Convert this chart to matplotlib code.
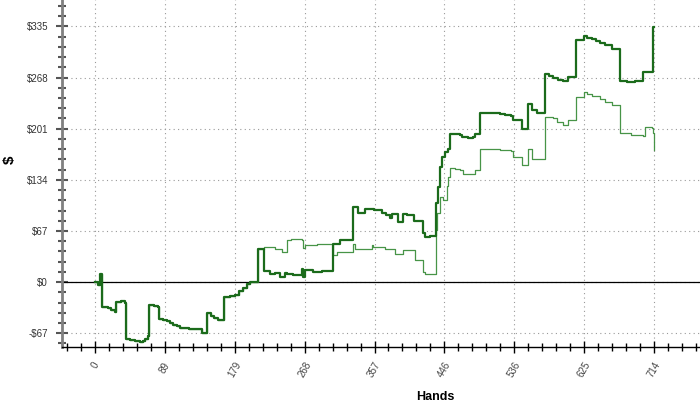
import numpy as np
import matplotlib
matplotlib.use('Agg')
import matplotlib.pyplot as plt

plt.rcParams['font.family'] = ['Liberation Sans', 'DejaVu Sans']

# common start of both curves (hand, $)
early_hands = [0, 4, 6, 9, 13, 17, 21, 26, 27, 33, 38, 40, 45, 51, 57, 61, 64, 68, 69,
               75, 80, 82, 87, 92, 96, 100, 105, 109, 120, 128, 134, 137, 143, 148, 152,
               157, 165, 172, 179, 184, 189, 194, 198, 208]
early_vals = [0, -4, 11, -32, -33, -34, -36, -39, -26, -25, -27, -74, -76, -77, -79, -77,
              -74, -71, -30, -31, -32, -48, -50, -51, -53, -56, -58, -60, -61, -62, -62,
              -67, -41, -44, -47, -50, -19, -18, -17, -12, -8, -3, 0, 44]

# thick curve after the split
dark_hands = [216, 224, 230, 236, 243, 245, 253, 264, 266, 268, 278, 290, 304, 313, 330,
              336, 345, 356, 367, 372, 377, 379, 387, 393, 398, 407, 419, 421, 428, 434,
              435, 436, 438, 441, 443, 447, 451, 453, 460, 466, 469, 476, 483, 485, 492,
              505, 517, 524, 531, 534, 545, 553, 558, 564, 575, 580, 585, 592, 598, 604,
              614, 624, 628, 635, 640, 645, 652, 660, 670, 680, 690, 700, 713, 714]
dark_vals = [14, 11, 12, 7, 12, 11, 9, 17, 7, 16, 13, 14, 50, 55, 99,
             90, 96, 94, 91, 88, 84, 89, 79, 89, 88, 80, 64, 59, 60, 61,
             70, 103, 125, 151, 164, 170, 175, 194, 194, 193, 190, 189, 190, 194, 222,
             221, 220, 219, 218, 212, 201, 234, 225, 221, 273, 270, 267, 265, 264, 269,
             317, 323, 320, 318, 316, 313, 310, 306, 264, 262, 264, 275, 334, 334]

# thin curve after the split
light_hands = [216, 227, 230, 239, 245, 250, 262, 264, 266, 268, 284, 304, 309, 330, 332,
               342, 354, 355, 370, 383, 393, 409, 419, 421, 434, 436, 437, 441, 445, 449,
               451, 453, 460, 466, 470, 485, 492, 505, 517, 531, 534, 545, 553, 558, 575,
               585, 590, 598, 604, 614, 624, 628, 635, 645, 652, 660, 670, 685, 700, 702,
               712, 713, 714]
light_vals = [46, 46, 44, 40, 55, 57, 56, 55, 45, 48, 50, 35, 40, 50, 43,
              44, 48, 46, 43, 37, 42, 29, 13, 11, 11, 68, 90, 112, 108, 126,
              138, 149, 148, 147, 142, 147, 175, 174, 173, 172, 164, 154, 175, 161, 216,
              215, 210, 206, 212, 243, 249, 246, 244, 240, 236, 232, 195, 193, 192, 203,
              202, 195, 173]

x_ticks = [0, 89.25, 178.5, 267.75, 357, 446.25, 535.5, 624.75, 714]
x_labels = ['0', '89', '179', '268', '357', '446', '536', '625', '714']
y_ticks = [-67, 0, 67, 134, 201, 268, 335]
y_labels = [r'-\$67', r'\$0', r'\$67', r'\$134', r'\$201', r'\$268', r'\$335']

dark_x = early_hands + dark_hands
dark_y = early_vals + dark_vals
light_x = early_hands + light_hands
light_y = early_vals + light_vals

fig = plt.figure(figsize=(7, 4.09), dpi=100)
ax = fig.add_axes([62 / 700, 1 - 347 / 409, 638 / 700, 347 / 409])

ax.plot(light_x, light_y, drawstyle='steps-post', color='#479447', lw=0.9, zorder=3)
ax.plot(dark_x, dark_y, drawstyle='steps-post', color='#1b6b1b', lw=1.6, zorder=4)
ax.axhline(0, color='black', lw=0.9, zorder=2)

ax.set_xlim(-42.2, 772.8)
ax.set_ylim(-85, 369.6)

ax.set_xticks(x_ticks)
ax.set_xticklabels(x_labels, rotation=60, ha='center', fontsize=7, color='#444444')
ax.set_xticks(np.arange(-2, 44) * 17.85, minor=True)
ax.set_yticks(y_ticks)
ax.set_yticklabels(y_labels, fontsize=7, color='#333333')
ax.set_yticks(np.arange(-6, 28) * 13.4, minor=True)

ax.tick_params(axis='x', which='major', direction='inout', length=9, width=1, color='black', pad=5)
ax.tick_params(axis='x', which='minor', direction='inout', length=6, width=1, color='black')
ax.tick_params(axis='y', which='major', direction='inout', length=8, width=1.5, color='#555555', pad=6)
ax.tick_params(axis='y', which='minor', direction='inout', length=6, width=1.5, color='#555555')

ax.grid(which='major', linestyle=(0, (1, 3)), color='#999999', linewidth=0.8)
for s in ['top', 'right']:
    ax.spines[s].set_visible(False)
ax.spines['left'].set_color('#808080')
ax.spines['left'].set_linewidth(2)
ax.spines['bottom'].set_color('black')
ax.spines['bottom'].set_linewidth(1)

fig.text(435 / 700, 1 - 397 / 409, 'Hands', ha='center', va='center', fontsize=9, fontweight='bold')
fig.text(10 / 700, 1 - 160 / 409, r'\$', ha='center', va='center', fontsize=11,
         fontweight='bold', rotation=90)

fig.savefig('out.png', dpi=100)
